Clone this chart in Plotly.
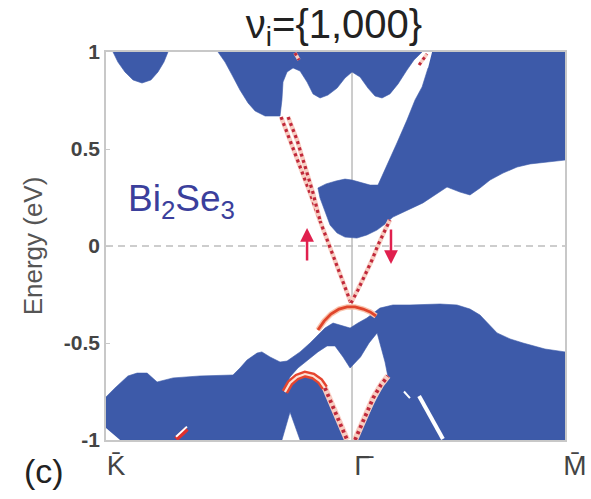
import plotly.graph_objects as go

# Momentum path K -> Gamma -> M (Gamma at 0, M at 1), energy in eV
K_POS, G_POS, M_POS = -1.155, 0.0, 1.0
tick_k = [K_POS, G_POS, M_POS]
tick_k_text = ["K\u0304", "\u0393\u0304", "M\u0304"]
tick_e = [-1, -0.5, 0, 0.5, 1]
tick_e_text = ["-1", "-0.5", "0", "0.5", "1"]

# Projected bulk continua (boundary outlines)
pocket_k = [-1.122, -1.099, -1.066, -1.028, -0.986, -0.944, -0.911, -0.883, -0.864]
pocket_e = [1.0, 0.948, 0.897, 0.856, 0.840, 0.856, 0.897, 0.948, 1.0]

upper_k = [-0.629, -0.596, -0.563, -0.526, -0.488, -0.455, -0.408, -0.338, -0.329, -0.324,
           -0.305, -0.277, -0.244, -0.211, -0.183, -0.150, -0.113, -0.070, -0.033, 0.0,
           0.038, 0.075, 0.108, 0.141, 0.178, 0.216, 0.258, 0.291, 0.329]
upper_e = [1.0, 0.948, 0.881, 0.804, 0.737, 0.696, 0.670, 0.670, 0.753, 0.845,
           0.897, 0.918, 0.902, 0.845, 0.784, 0.763, 0.778, 0.814, 0.866, 0.897,
           0.871, 0.814, 0.773, 0.763, 0.784, 0.835, 0.907, 0.959, 1.0]

cond_k = [0.376, 1.0, 1.0, 0.953, 0.897, 0.836, 0.775, 0.709, 0.648, 0.601, 0.554, 0.507,
          0.446, 0.390, 0.333, 0.263, 0.192, 0.155, 0.117, 0.070, 0.023, -0.033, -0.070,
          -0.103, -0.127, -0.150, -0.160, -0.122, -0.075, -0.033, 0.0, 0.038, 0.085, 0.122,
          0.150, 0.178, 0.211, 0.258, 0.296, 0.329, 0.357]
cond_e = [1.0, 1.0, 0.443, 0.438, 0.433, 0.423, 0.407, 0.376, 0.340, 0.299, 0.263, 0.278,
          0.304, 0.263, 0.222, 0.186, 0.149, 0.113, 0.082, 0.057, 0.041, 0.046, 0.067,
          0.108, 0.175, 0.247, 0.299, 0.320, 0.335, 0.345, 0.340, 0.330, 0.314, 0.314,
          0.381, 0.443, 0.531, 0.649, 0.753, 0.820, 0.918]

val_k = [-1.155, -1.155, -1.113, -1.089, -1.052, -1.009, -0.962, -0.915, -0.840, -0.714,
         -0.559, -0.526, -0.493, -0.446, -0.423, -0.385, -0.338, -0.305, -0.277, -0.244,
         -0.197, -0.160, -0.127, -0.089, -0.047, -0.009, 0.028, 0.070, 0.131, 0.192,
         0.272, 0.413, 0.493, 0.554, 0.601, 0.648, 0.681, 0.742, 0.803, 0.906,
         1.0, 1.0, 0.023, 0.094, 0.169, 0.155, 0.118, 0.080, 0.040, -0.009,
         -0.042, -0.080, -0.117, -0.160, -0.207, -0.254, -0.291, -0.315, -0.282, -0.244,
         -0.211, -0.174, -0.136, -0.103, -0.056, -0.023, -0.244, -0.291, -0.329, -1.089]
val_e = [-0.938, -0.778, -0.732, -0.706, -0.670, -0.655, -0.655, -0.701, -0.680, -0.670,
         -0.665, -0.629, -0.588, -0.552, -0.546, -0.572, -0.598, -0.593, -0.572, -0.546,
         -0.500, -0.459, -0.423, -0.397, -0.412, -0.423, -0.397, -0.371, -0.320, -0.304,
         -0.304, -0.299, -0.304, -0.325, -0.356, -0.407, -0.448, -0.479, -0.500, -0.531,
         -0.546, -1.0, -1.0, -0.835, -0.675, -0.598, -0.448, -0.500, -0.572, -0.629,
         -0.572, -0.515, -0.515, -0.546, -0.588, -0.629, -0.675, -0.732, -0.691, -0.670,
         -0.665, -0.675, -0.706, -0.794, -0.912, -1.0, -1.0, -0.856, -1.0, -1.0]

# Gaps cut through the valence continuum
slash_k = [0.315, 0.427]
slash_e = [-0.773, -0.995]
speck_k = [0.244, 0.272]
speck_e = [-0.750, -0.784]

# Surface states
dirac_left_k = [-0.333, -0.291, -0.244, -0.197, -0.150, -0.103, -0.056, -0.005]
dirac_left_e = [0.665, 0.546, 0.412, 0.273, 0.129, -0.010, -0.149, -0.294]
dirac_left2_k = [-0.300, -0.258, -0.221, -0.183, -0.150]
dirac_left2_e = [0.665, 0.546, 0.412, 0.273, 0.129]
dirac_right_k = [-0.005, 0.028, 0.061, 0.094, 0.122, 0.150, 0.178]
dirac_right_e = [-0.294, -0.227, -0.149, -0.072, 0.005, 0.072, 0.134]
top_left_k = [-0.268, -0.249]
top_left_e = [0.995, 0.959]
top_right_k = [0.315, 0.352]
top_right_e = [0.933, 0.990]
cap_k = [-0.160, -0.131, -0.099, -0.061, -0.023, 0.014, 0.052, 0.085, 0.113]
cap_e = [-0.433, -0.387, -0.351, -0.325, -0.314, -0.314, -0.325, -0.340, -0.361]
hook_k = [-0.315, -0.291, -0.258, -0.221, -0.183, -0.150, -0.127]
hook_e = [-0.753, -0.706, -0.675, -0.660, -0.670, -0.696, -0.732]
deep_left_k = [-0.127, -0.103, -0.075, -0.052, -0.023]
deep_left_e = [-0.732, -0.794, -0.866, -0.933, -1.0]
deep_right_k = [0.014, 0.056, 0.099, 0.136, 0.169]
deep_right_e = [-1.0, -0.887, -0.784, -0.716, -0.670]
streak_k = [-0.826, -0.775]
streak_e = [-0.995, -0.943]

# Spin arrows (tail -> tip)
arrow_up = dict(k=-0.211, e_tail=-0.082, e_tip=0.093)
arrow_down = dict(k=0.183, e_tail=0.093, e_tip=-0.093)

BLUE = "#3d5aa9"
RED = "#c0283a"
HALO = "#f8cdc2"
FONT = "Liberation Sans, Arial, sans-serif"

fig = go.Figure()


def region(k, e):
    fig.add_trace(go.Scatter(x=k, y=e, mode="lines", fill="toself", fillcolor=BLUE,
                             line=dict(color=BLUE, width=0.6), hoverinfo="skip"))


def plain(k, e, color, width):
    fig.add_trace(go.Scatter(x=k, y=e, mode="lines", line=dict(color=color, width=width),
                             hoverinfo="skip"))


def dotted(k, e, halo=4.5, dot=3.2):
    plain(k, e, HALO, halo)
    fig.add_trace(go.Scatter(x=k, y=e, mode="lines",
                             line=dict(color=RED, width=dot, dash="3px,3.5px"),
                             hoverinfo="skip"))


for rk, re_ in [(pocket_k, pocket_e), (upper_k, upper_e), (cond_k, cond_e), (val_k, val_e)]:
    region(rk, re_)

plain(slash_k, slash_e, "white", 4)
plain(speck_k, speck_e, "white", 2)

dotted(dirac_left_k, dirac_left_e)
dotted(dirac_left2_k, dirac_left2_e)
dotted(dirac_right_k, dirac_right_e)
dotted(top_left_k, top_left_e, 3.5, 3)
dotted(top_right_k, top_right_e, 3.5, 3)

plain(cap_k, cap_e, "#f9c4ad", 5.5)
plain(cap_k, cap_e, "#e0452b", 2.8)

plain(hook_k, hook_e, "#e5452f", 7)
plain(hook_k, hook_e, "#fde2d6", 2.2)
dotted(deep_left_k, deep_left_e, 6, 3.8)
dotted(deep_right_k, deep_right_e, 6, 3.8)

plain(streak_k, streak_e, "#e0302c", 5)
plain(streak_k, [v + 0.012 for v in streak_e], "white", 2)

for a in (arrow_up, arrow_down):
    fig.add_annotation(x=a["k"], y=a["e_tip"], ax=a["k"], ay=a["e_tail"], xref="x", yref="y",
                       axref="x", ayref="y", text="", showarrow=True, arrowhead=2,
                       arrowsize=1.1, arrowwidth=2.5, arrowcolor="#e0204e")

fig.add_shape(type="line", xref="paper", x0=0, x1=1, yref="y", y0=0, y1=0,
              line=dict(color="#bdbdbd", width=1.5, dash="7px,5px"), layer="below")
fig.add_shape(type="line", xref="x", x0=G_POS, x1=G_POS, yref="y", y0=-1, y1=1,
              line=dict(color="#bcbcbc", width=1.5), layer="below")

fig.add_annotation(x=-0.80, y=0.23, xref="x", yref="y", showarrow=False,
                   text="Bi<sub>2</sub>Se<sub>3</sub>",
                   font=dict(family=FONT, size=37, color="#3b3f9c"))
fig.add_annotation(x=-0.135, y=-0.08, xref="paper", yref="paper", showarrow=False,
                   xanchor="center", yanchor="middle",
                   text="(c)", font=dict(family=FONT, size=34, color="#222222"))

fig.update_layout(
    width=591, height=499,
    margin=dict(l=106, r=26, t=52, b=59, autoexpand=False),
    paper_bgcolor="white", plot_bgcolor="white",
    showlegend=False,
    title=dict(text="\u03bd<sub>i</sub>={1,000}", x=334 / 591, xanchor="center",
               y=1 - 24 / 499, yanchor="middle",
               font=dict(family=FONT, size=40, color="#222222")),
    xaxis=dict(range=[K_POS, M_POS], tickvals=tick_k, ticktext=tick_k_text,
               showgrid=False, zeroline=False, showline=True, mirror=True,
               linecolor="#c8c8c8", linewidth=1.5, ticks="", ticklabelshift=10,
               automargin=False,
               tickfont=dict(family=FONT, size=28, color="#444444")),
    yaxis=dict(range=[-1, 1], tickvals=tick_e, ticktext=tick_e_text,
               showgrid=False, zeroline=False, showline=True, mirror=True,
               linecolor="#c8c8c8", linewidth=1.5, ticks="inside", ticklen=4,
               tickcolor="#c8c8c8", automargin=False,
               tickfont=dict(family=FONT, size=21, color="#444444", weight="bold"),
               title=dict(text="Energy (eV)", standoff=14,
                          font=dict(family=FONT, size=26, color="#555555"))),
)

fig.write_html("out.html")
